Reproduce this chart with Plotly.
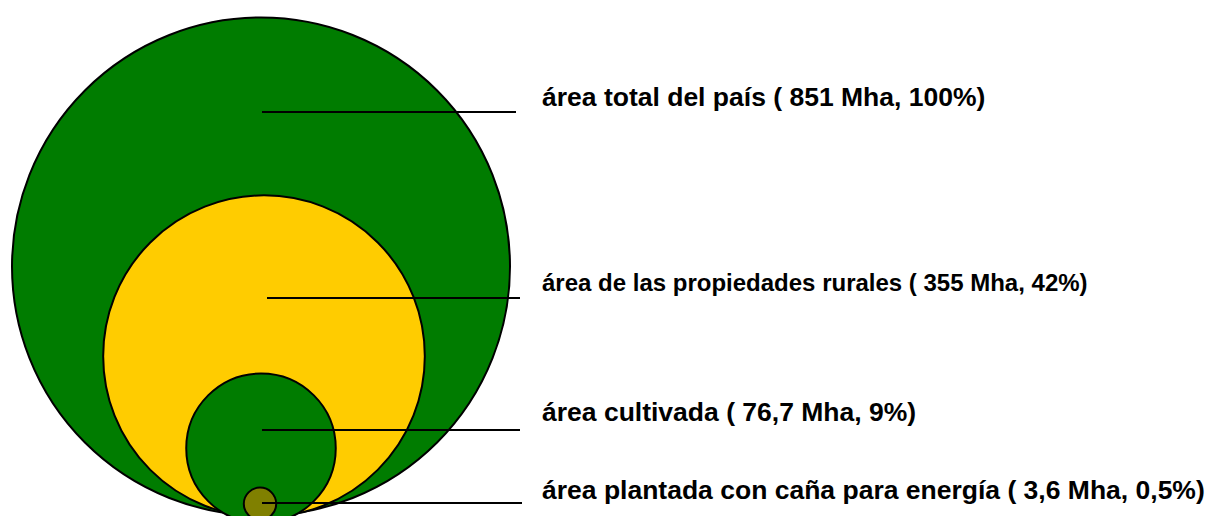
import math
import plotly.graph_objects as go

# ---- data ----
categories = ["área total del país", "área de las propiedades rurales",
              "área cultivada", "área plantada con caña para energía"]
areas_mha = [851, 355, 76.7, 3.6]
area_text = ["851", "355", "76,7", "3,6"]
percents = ["100%", "42%", "9%", "0,5%"]

# ---- layout constants (pixel-like axis units) ----
W, H = 1210, 516
R_MAX = 249                      # radius of the largest circle
bottoms = [515.5, 517, 523, 520]  # lowest point of each circle
centers_x = [261, 264, 261, 260]
fills = ["#007C00", "#FFCC00", "#007C00", "#808000"]
line_y = [112, 298, 430, 503]
line_x0 = [262, 267, 262, 262]
line_x1 = [516, 520, 520, 522]
label_y = [97, 282, 412, 490]
label_size = [26.5, 24, 26.5, 26.5]
LABEL_X = 540

fig = go.Figure()
fig.add_trace(go.Scatter(x=[0, W], y=[0, H], mode="markers",
                         marker=dict(opacity=0), hoverinfo="skip", showlegend=False))

shapes = []
for a, cx, b, fc in zip(areas_mha, centers_x, bottoms, fills):
    r = R_MAX * math.sqrt(a / areas_mha[0])
    cy = b - r
    shapes.append(dict(type="circle", xref="x", yref="y",
                       x0=cx - r, x1=cx + r, y0=cy - r, y1=cy + r,
                       fillcolor=fc, line=dict(color="black", width=2), layer="above"))
for y, x0, x1 in zip(line_y, line_x0, line_x1):
    shapes.append(dict(type="line", xref="x", yref="y", x0=x0, x1=x1, y0=y, y1=y,
                       line=dict(color="black", width=2), layer="above"))

annotations = []
for cat, t, p, y, fs in zip(categories, area_text, percents, label_y, label_size):
    annotations.append(dict(x=LABEL_X, y=y, xref="x", yref="y",
                            text=f"{cat} ( {t} Mha, {p})", showarrow=False,
                            xanchor="left", yanchor="middle",
                            font=dict(family="Liberation Sans, Arial, sans-serif",
                                      size=fs, color="black", weight="bold")))

fig.update_layout(width=W, height=H, margin=dict(l=0, r=0, t=0, b=0),
                  paper_bgcolor="white", plot_bgcolor="white",
                  xaxis=dict(range=[0, W], visible=False, fixedrange=True),
                  yaxis=dict(range=[H, 0], visible=False, fixedrange=True),
                  shapes=shapes, annotations=annotations, showlegend=False)

fig.write_html("out.html", config={"displayModeBar": False},
               post_script="document.body.style.margin='0';document.body.style.overflow='hidden';")
